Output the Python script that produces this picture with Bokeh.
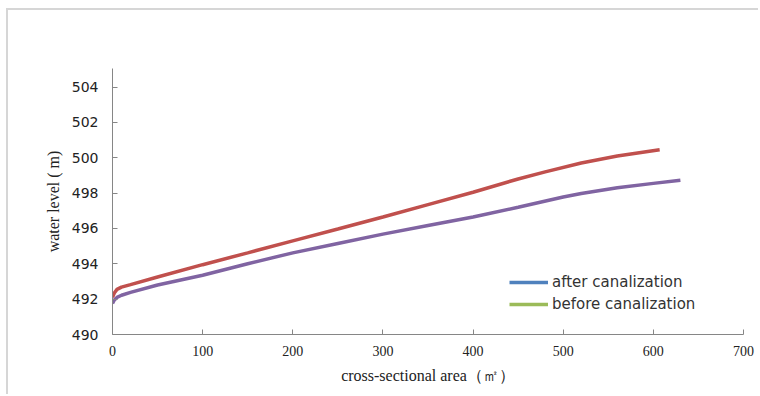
from bokeh.plotting import figure
from bokeh.models import Range1d, Legend, LegendItem, FixedTicker
from bokeh.embed import file_html
from bokeh.resources import INLINE

# ---- data ----
before_area = [0, 2, 5, 10, 20, 50, 100, 150, 200, 250, 300, 350, 400, 450, 480, 520, 560, 607]
before_level = [492.1, 492.35, 492.55, 492.68, 492.82, 493.25, 493.95, 494.62, 495.3, 495.97,
                496.65, 497.35, 498.05, 498.8, 499.2, 499.7, 500.1, 500.45]

after_area = [0, 2, 5, 10, 20, 50, 100, 150, 200, 250, 300, 350, 400, 450, 500, 520, 560, 600, 630]
after_level = [491.75, 491.95, 492.1, 492.22, 492.38, 492.8, 493.35, 494.0, 494.62, 495.15,
               495.68, 496.17, 496.65, 497.2, 497.78, 497.98, 498.3, 498.55, 498.73]

x_ticks = [0, 100, 200, 300, 400, 500, 600, 700]
y_ticks = [490, 492, 494, 496, 498, 500, 502, 504]
legend_labels = ["after canalization", "before canalization"]

line_before_color = "#C0504D"
line_after_color = "#8064A2"
legend_colors = ["#4F81BD", "#9BBB59"]
axis_color = "#868686"

p = figure(width=752, height=386, output_backend="svg", toolbar_location=None,
           x_range=Range1d(0, 700), y_range=Range1d(490, 505.05),
           min_border_left=104, min_border_top=58, min_border_right=17, min_border_bottom=62)
p.styles = {"border-left": "2px solid #d6d6d6", "border-top": "2px solid #d6d6d6",
            "margin-left": "6px", "margin-top": "8px"}

p.background_fill_color = "white"
p.border_fill_color = "white"
p.outline_line_color = None
p.xgrid.visible = False
p.ygrid.visible = False

# data lines
p.line(before_area, before_level, line_color=line_before_color, line_width=3.5)
p.line(after_area, after_level, line_color=line_after_color, line_width=3.5)

# legend entries (colours as in the reference legend); single off-range points draw nothing
r1 = p.line([0], [480], line_color=legend_colors[0], line_width=3.5)
r2 = p.line([0], [480], line_color=legend_colors[1], line_width=3.5)
legend = Legend(items=[LegendItem(label=legend_labels[0], renderers=[r1]),
                       LegendItem(label=legend_labels[1], renderers=[r2])],
                location=(397, 20), padding=0, margin=0, spacing=2,
                glyph_width=39, glyph_height=20, label_height=20, label_standoff=4,
                border_line_color=None, background_fill_alpha=0,
                label_text_font="DejaVu Sans", label_text_font_size="15px",
                label_text_color="#333333")
p.add_layout(legend, "center")

# axes
for ax in (p.xaxis[0], p.yaxis[0]):
    ax.axis_line_color = axis_color
    ax.major_tick_line_color = axis_color
    ax.minor_tick_line_color = None
    ax.major_tick_in = 5
    ax.major_tick_out = 0
    ax.major_label_text_color = "#222222"
    ax.axis_label_text_color = "#222222"
    ax.axis_label_text_font_style = "normal"

p.xaxis.ticker = FixedTicker(ticks=x_ticks)
p.yaxis.ticker = FixedTicker(ticks=y_ticks)

p.yaxis.major_label_text_font = "DejaVu Sans"
p.yaxis.major_label_text_font_size = "14px"
p.yaxis.major_label_standoff = 14
p.yaxis.axis_label = "water level ( m)"
p.yaxis.axis_label_text_font = "Liberation Serif"
p.yaxis.axis_label_text_font_size = "16px"
p.yaxis.axis_label_standoff = 7

p.xaxis.major_label_text_font = "Liberation Sans Narrow"
p.xaxis.major_label_text_font_size = "14px"
p.xaxis.major_label_standoff = 11
p.xaxis.axis_label = "cross-sectional area（㎡）"
p.xaxis.axis_label_text_font = "Liberation Serif"
p.xaxis.axis_label_text_font_size = "16px"
p.xaxis.axis_label_standoff = 8

open("out.html", "w").write(file_html(p, INLINE))
